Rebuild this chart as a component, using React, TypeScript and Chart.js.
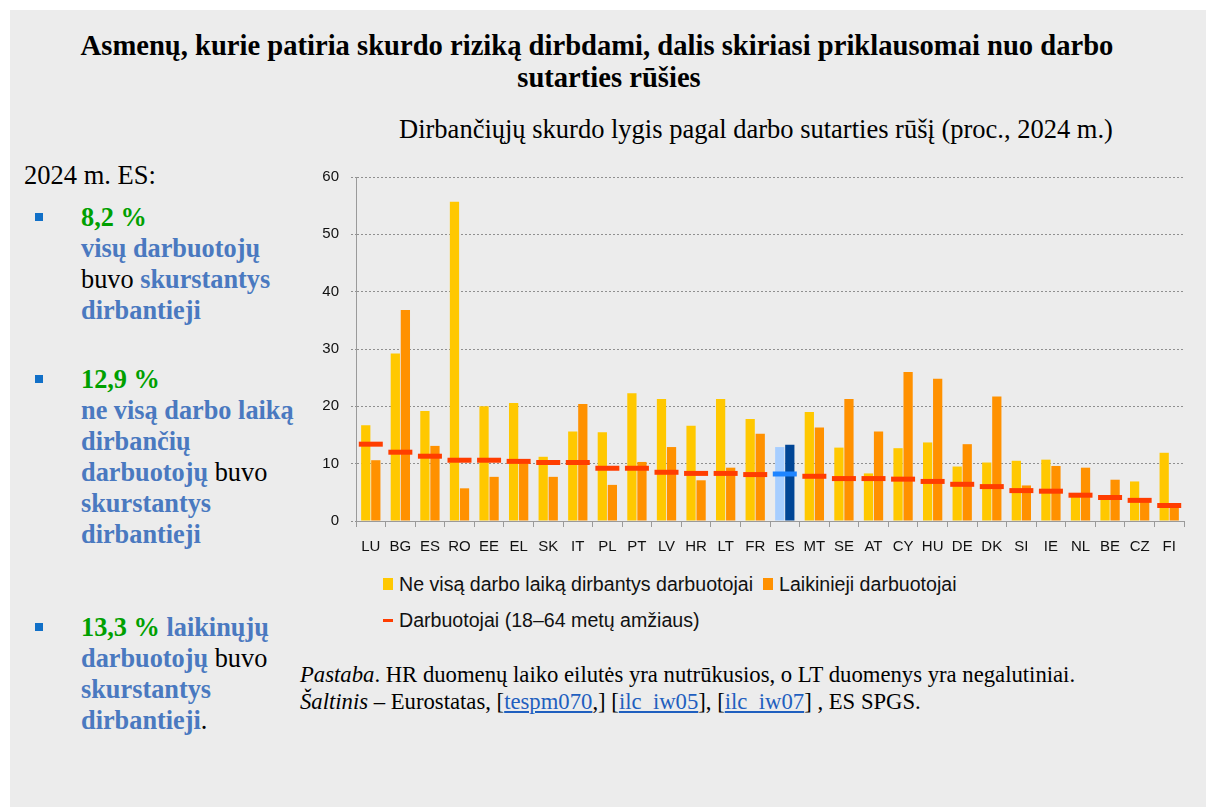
import React, { useEffect, useRef } from "react";
import { Chart, registerables } from "chart.js";

Chart.register(...registerables);

const categories = ["LU","BG","ES","RO","EE","EL","SK","IT","PL","PT","LV","HR","LT","FR","ES","MT","SE","AT","CY","HU","DE","DK","SI","IE","NL","BE","CZ","FI"];
const partTime = [16.7,29.2,19.2,55.7,20.0,20.6,11.2,15.6,15.5,22.3,21.3,16.6,21.3,17.8,12.9,19.0,12.8,8.3,12.7,13.7,9.5,10.2,10.5,10.7,4.2,4.0,6.9,11.9];
const temporary = [10.6,36.8,13.1,5.7,7.7,10.3,7.7,20.4,6.3,10.3,12.9,7.1,9.3,15.2,13.3,16.3,21.3,15.6,26.0,24.8,13.4,21.7,6.2,9.6,9.3,7.2,3.4,2.5];
const employed = [13.4,12.0,11.3,10.6,10.6,10.4,10.2,10.2,9.2,9.2,8.5,8.3,8.3,8.1,8.2,7.8,7.4,7.4,7.3,6.9,6.4,6.0,5.3,5.2,4.5,4.1,3.6,2.7];
const euIndex = 14;
const yTicks = [0, 10, 20, 30, 40, 50, 60];

const seriesLabels = [
  "Ne visą darbo laiką dirbantys darbuotojai",
  "Laikinieji darbuotojai",
  "Darbuotojai (18–64 metų amžiaus)",
];

const YELLOW = "#FFC800";
const ORANGE = "#FF9100";
const RED = "#FF3D00";
const LIGHT_BLUE = "#A7CEFF";
const DARK_BLUE = "#004595";
const MID_BLUE = "#1E84FF";
const GREEN = "#00A000";
const BLUE = "#4A79C0";

const serif = "'Liberation Serif', 'Times New Roman', serif";
const sans = "'Liberation Sans', Arial, sans-serif";

const CANVAS_TOP = 156;
const CANVAS_H = 405;

function ChartCanvas() {
  const ref = useRef<HTMLCanvasElement | null>(null);
  useEffect(() => {
    if (!ref.current) return;
    const chart = new Chart(ref.current, {
      type: "bar",
      data: {
        labels: categories,
        datasets: [
          {
            type: "bar",
            label: seriesLabels[0],
            data: partTime,
            backgroundColor: partTime.map((_, i) => (i === euIndex ? LIGHT_BLUE : YELLOW)),
            borderWidth: 0,
            categoryPercentage: 0.68,
            barPercentage: 0.92,
            order: 1,
          },
          {
            type: "bar",
            label: seriesLabels[1],
            data: temporary,
            backgroundColor: temporary.map((_, i) => (i === euIndex ? DARK_BLUE : ORANGE)),
            borderWidth: 0,
            categoryPercentage: 0.68,
            barPercentage: 0.92,
            order: 1,
          },
          {
            type: "line",
            label: seriesLabels[2],
            data: employed,
            showLine: false,
            pointStyle: "line",
            pointRadius: 12,
            pointHoverRadius: 12,
            pointBorderWidth: 5,
            pointHoverBorderWidth: 5,
            pointBorderColor: employed.map((_, i) => (i === euIndex ? MID_BLUE : RED)),
            pointBackgroundColor: employed.map((_, i) => (i === euIndex ? MID_BLUE : RED)),
            order: 0,
          } as any,
        ],
      },
      options: {
        animation: false,
        responsive: false,
        maintainAspectRatio: false,
        layout: { autoPadding: false, padding: { top: 3, right: 11, bottom: 0, left: 0 } } as any,
        plugins: { legend: { display: false }, tooltip: { enabled: false } },
        scales: {
          x: {
            offset: true,
            grid: {
              offset: true,
              drawOnChartArea: false,
              drawTicks: true,
              tickLength: 6,
              color: "#9a9a9a",
            },
            border: { color: "#9a9a9a", width: 1 },
            ticks: {
              color: "#111",
              font: { family: sans, size: 15 },
              padding: 11,
              maxRotation: 0,
              autoSkip: false,
            },
            afterFit: (s: any) => {
              s.height = 40;
            },
          } as any,
          y: {
            min: 0,
            max: 60,
            afterBuildTicks: (s: any) => {
              s.ticks = yTicks.map((v) => ({ value: v }));
            },
            grid: {
              color: "#8f8f8f",
              tickLength: 5,
              lineWidth: 1,
              tickBorderDash: [2, 2],
            },
            border: { color: "#9a9a9a", width: 1, dash: [2, 2] },
            ticks: {
              color: "#111",
              font: { family: sans, size: 15 },
              padding: 12,
            },
            afterFit: (s: any) => {
              s.width = 46;
            },
          } as any,
        },
      },
    });
    return () => chart.destroy();
  }, []);
  return (
    <canvas
      ref={ref}
      width={885}
      height={CANVAS_H}
      style={{ position: "absolute", left: 310, top: CANVAS_TOP, width: 885, height: CANVAS_H }}
    />
  );
}

const G = ({ children }: { children: React.ReactNode }) => (
  <span style={{ color: GREEN, fontWeight: "bold" }}>{children}</span>
);
const B = ({ children }: { children: React.ReactNode }) => (
  <span style={{ color: BLUE, fontWeight: "bold" }}>{children}</span>
);

const Bullet = ({ top }: { top: number }) => (
  <div style={{ position: "absolute", left: 35, top, width: 8, height: 8, background: "#1170C8" }} />
);

export default function App() {
  const textBlock: React.CSSProperties = {
    position: "absolute",
    left: 81,
    fontFamily: serif,
    fontSize: 26.3,
    lineHeight: "31px",
    color: "#000",
    whiteSpace: "nowrap",
  };
  const legendItem: React.CSSProperties = {
    position: "absolute",
    fontFamily: sans,
    fontSize: 19.6,
    color: "#111",
    whiteSpace: "nowrap",
    lineHeight: "22px",
  };
  return (
    <div style={{ position: "absolute", left: 0, top: 0, width: 1206, height: 807, background: "#fff", overflow: "hidden" }}>
      <div style={{ position: "absolute", left: 10, top: 10, width: 1196, height: 797, background: "#ececec" }} />
      <div
        style={{
          position: "absolute",
          left: 2,
          top: 30,
          width: 1190,
          textAlign: "center",
          fontFamily: serif,
          fontWeight: "bold",
          fontSize: 28.6,
          lineHeight: "32px",
          color: "#000",
          whiteSpace: "nowrap",
        }}
      >
        Asmenų, kurie patiria skurdo riziką dirbdami, dalis skiriasi priklausomai nuo darbo
        <br />
        <span style={{ position: "relative", left: 12 }}>sutarties rūšies</span>
      </div>
      <div
        style={{
          position: "absolute",
          left: 356,
          top: 113,
          width: 800,
          textAlign: "center",
          fontFamily: serif,
          fontSize: 26.5,
          lineHeight: "32px",
          color: "#000",
          whiteSpace: "nowrap",
        }}
      >
        Dirbančiųjų skurdo lygis pagal darbo sutarties rūšį (proc., 2024 m.)
      </div>

      <div style={{ position: "absolute", left: 24, top: 159, fontFamily: serif, fontSize: 26.5, lineHeight: "32px", color: "#000" }}>
        2024 m. ES:
      </div>

      <Bullet top={213} />
      <div style={{ ...textBlock, top: 202 }}>
        <G>8,2 %</G>
        <br />
        <B>visų darbuotojų</B>
        <br />
        buvo <B>skurstantys</B>
        <br />
        <B>dirbantieji</B>
      </div>

      <Bullet top={375} />
      <div style={{ ...textBlock, top: 364 }}>
        <G>12,9 %</G>
        <br />
        <B>ne visą darbo laiką</B>
        <br />
        <B>dirbančių</B>
        <br />
        <B>darbuotojų</B> buvo
        <br />
        <B>skurstantys</B>
        <br />
        <B>dirbantieji</B>
      </div>

      <Bullet top={623} />
      <div style={{ ...textBlock, top: 612 }}>
        <G>13,3 %</G> <B>laikinųjų</B>
        <br />
        <B>darbuotojų</B> buvo
        <br />
        <B>skurstantys</B>
        <br />
        <B>dirbantieji</B>.
      </div>

      <ChartCanvas />

      <div style={{ position: "absolute", left: 383, top: 578, width: 10, height: 12, background: YELLOW }} />
      <div style={{ ...legendItem, left: 399, top: 573 }}>{seriesLabels[0]}</div>
      <div style={{ position: "absolute", left: 763, top: 578, width: 10, height: 12, background: ORANGE }} />
      <div style={{ ...legendItem, left: 779, top: 573 }}>{seriesLabels[1]}</div>
      <div style={{ position: "absolute", left: 383, top: 619, width: 10, height: 3, background: RED }} />
      <div style={{ ...legendItem, left: 399, top: 609 }}>{seriesLabels[2]}</div>

      <div style={{ position: "absolute", left: 300, top: 661, fontFamily: serif, fontSize: 22.7, lineHeight: "27px", color: "#000", whiteSpace: "nowrap" }}>
        <i>Pastaba</i>. HR duomenų laiko eilutės yra nutrūkusios, o LT duomenys yra negalutiniai.
        <br />
        <i>Šaltinis</i> – Eurostatas, [<span style={{ color: "#1F5FBF", textDecoration: "underline" }}>tespm070</span>,] [
        <span style={{ color: "#1F5FBF", textDecoration: "underline" }}>ilc_iw05</span>], [
        <span style={{ color: "#1F5FBF", textDecoration: "underline" }}>ilc_iw07</span>] , ES SPGS.
      </div>
    </div>
  );
}
